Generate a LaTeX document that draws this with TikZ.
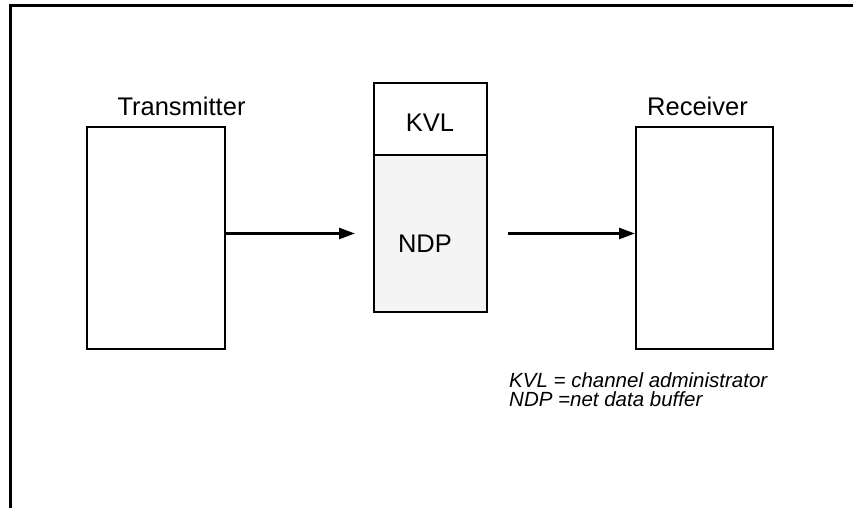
\documentclass[tikz,border=0pt]{standalone}
\usepackage{fontspec}
\setmainfont{Liberation Sans}
\usetikzlibrary{arrows.meta,calc}
\definecolor{bufgray}{HTML}{F4F4F4}
\tikzset{
  blockbox/.style={draw=black, line width=2pt, rectangle, inner sep=0pt},
  lbl/.style={font=\fontsize{25.5}{30}\selectfont, inner sep=0pt, anchor=base},
  legendtxt/.style={font=\fontsize{20.5}{19}\selectfont\itshape, inner sep=0pt, anchor=base west},
  arr/.style={line width=2.5pt, -{Triangle[length=16pt,width=11pt]}},
  frameline/.style={line width=3pt},
}
\begin{document}
\begin{tikzpicture}[x=1pt, y=-1pt]
  \useasboundingbox (0,0) rectangle (853,508);
  % outer frame: top and left edges only
  \draw[frameline] (853,5.5) -- (10,5.5) -- (10,508);

  % blocks
  \node[blockbox, minimum width=138pt, minimum height=222pt] (tx) at (156,238) {};
  \node[blockbox, minimum width=137pt, minimum height=222pt] (rx) at (704.5,238) {};
  \node[blockbox, fill=bufgray, minimum width=113pt, minimum height=157pt] (ndp) at (430.5,233.5) {};
  \node[blockbox, fill=white, minimum width=113pt, minimum height=72pt] (kvl) at (430.5,119) {};

  % labels
  \node[lbl] (txl) at (181.5,115) {Transmitter};
  \node[lbl] (rxl) at (697.5,115) {Receiver};
  \node[lbl] (kvlt) at (430,131.5) {KVL};
  \node[lbl] (ndpt) at (425,252.5) {NDP};

  % connectors
  \draw[arr, shorten >=18pt] (tx.east |- ndp.center) -- (ndp.west);
  \draw[arr, shorten <=20pt] (ndp.east) -- (rx.west |- ndp.center);

  % legend
  \node[legendtxt] (legend1) at (509,387) {KVL = channel administrator};
  \node[legendtxt] (legend2) at (509,406.5) {NDP =net data buffer};
\end{tikzpicture}
\end{document}
